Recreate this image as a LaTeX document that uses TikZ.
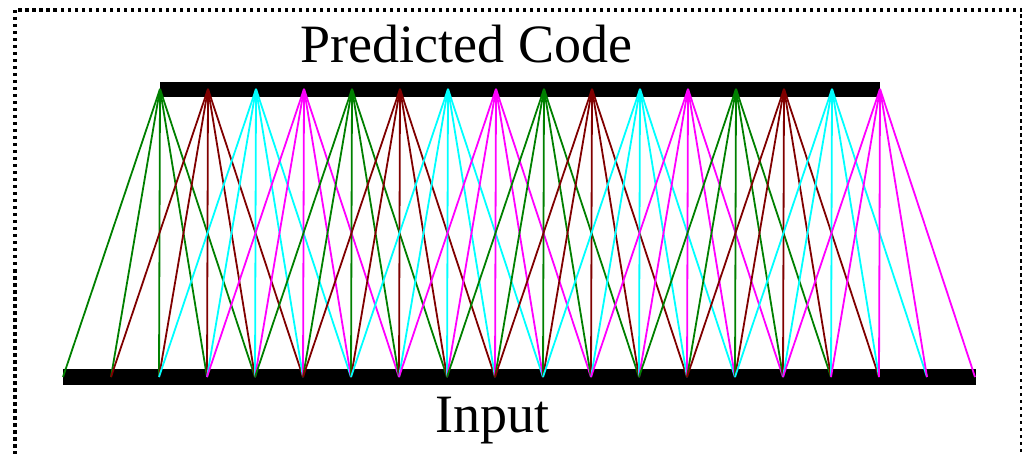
\documentclass[tikz,border=0pt]{standalone}
\usepackage{fontspec}
\setmainfont{Liberation Serif}
\usepackage{xcolor}
\definecolor{kern0}{RGB}{0,128,0}
\definecolor{kern1}{RGB}{128,0,0}
\definecolor{kern2}{RGB}{0,255,255}
\definecolor{kern3}{RGB}{255,0,255}
\usetikzlibrary{calc}
\tikzset{
  convbar/.style={line width=15pt,black},
  convedge/.style={line width=1.8pt},
  convtitle/.style={font=\fontsize{54}{60}\selectfont,inner sep=0pt,anchor=base},
  convframe/.style={line width=3.5pt,dash pattern=on 3.5pt off 3.5pt},
}
\begin{document}
\begin{tikzpicture}[x=1pt,y=-1pt]
\useasboundingbox (0,0) rectangle (1022,454);
\clip (0,0) rectangle (1022,454);
 % dotted frame
\draw[convframe] (15,10) rectangle (1022,480);
 % code and input layers
\coordinate (codel) at (160,89.5);
\coordinate (coder) at (880,89.5);
\coordinate (inl) at (63,377);
\coordinate (inr) at (976,377);
\draw[convbar] (codel)--(coder);
\draw[convbar,line width=16pt] (inl)--(inr);
\node[convtitle] (code) at (466.5,63) {Predicted Code};
\node[convtitle] (input) at (492.5,432) {Input};
 % kernel connections
\foreach \k in {0,...,15} \coordinate (t\k) at (160+48*\k,89);
\foreach \j in {0,...,19} \coordinate (b\j) at (63+48*\j,377);
\foreach \k [evaluate=\k as \c using {int(mod(\k,4))}] in {0,...,15}
  \foreach \m in {0,...,4}{
    \pgfmathtruncatemacro{\j}{\k+\m}
    \draw[convedge,kern\c] (t\k)--(b\j);
  }
\end{tikzpicture}
\end{document}
